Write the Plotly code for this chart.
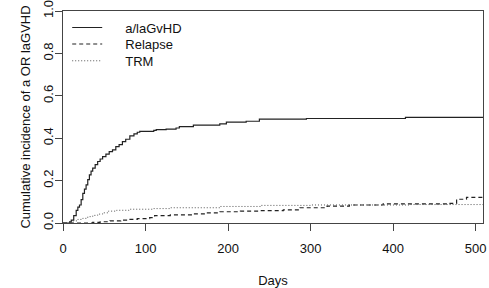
import plotly.graph_objects as go

# ---- data ----
gvhd_days = [0, 8, 10, 13, 16, 18, 20, 22, 24, 26, 28, 30, 32, 34, 36, 39, 42, 45, 48, 52, 56, 60, 64, 68, 72,
             76, 81, 86, 90, 93, 110, 113, 125, 137, 141, 158, 190, 198, 222, 238, 295, 415, 509]
gvhd_vals = [0, 0.005, 0.014, 0.035, 0.06, 0.075, 0.085, 0.11, 0.14, 0.16, 0.18, 0.205, 0.227, 0.245, 0.259,
             0.275, 0.29, 0.302, 0.313, 0.325, 0.337, 0.345, 0.36, 0.37, 0.384, 0.395, 0.411, 0.42, 0.428,
             0.432, 0.437, 0.44, 0.443, 0.448, 0.455, 0.462, 0.468, 0.476, 0.48, 0.49, 0.493, 0.498, 0.498]

relapse_days = [0, 36, 45, 57, 70, 77, 90, 105, 111, 130, 158, 175, 190, 215, 238, 267, 287, 320, 347, 388,
                469, 477, 489, 509]
relapse_vals = [0, 0.003, 0.006, 0.01, 0.014, 0.017, 0.021, 0.025, 0.035, 0.038, 0.043, 0.048, 0.053, 0.056,
                0.058, 0.062, 0.072, 0.08, 0.085, 0.09, 0.093, 0.112, 0.121, 0.121]

trm_days = [0, 8, 12, 18, 24, 30, 36, 42, 48, 55, 65, 80, 110, 130, 190, 240, 300, 420, 509]
trm_vals = [0, 0.003, 0.01, 0.017, 0.022, 0.03, 0.036, 0.042, 0.048, 0.056, 0.06, 0.065, 0.068, 0.072,
            0.078, 0.083, 0.085, 0.087, 0.087]

series_names = ["a/laGvHD", "Relapse", "TRM"]
x_ticks = [0, 100, 200, 300, 400, 500]
y_ticks = [0.0, 0.2, 0.4, 0.6, 0.8, 1.0]

FONT = "Liberation Sans, Arial, sans-serif"
pad = "\u00a0" * 5

fig = go.Figure()
fig.add_trace(go.Scatter(x=gvhd_days, y=gvhd_vals, mode="lines", line_shape="hv", name=pad + series_names[0],
                         line=dict(color="#222222", width=1.2), legend="legend"))
fig.add_trace(go.Scatter(x=relapse_days, y=relapse_vals, mode="lines", line_shape="hv", name=pad + series_names[1],
                         line=dict(color="#222222", width=1.2, dash="4px,3px"), legend="legend2"))
fig.add_trace(go.Scatter(x=trm_days, y=trm_vals, mode="lines", line_shape="hv", name=pad + series_names[2],
                         line=dict(color="#555555", width=1, dash="1px,2px"), legend="legend3"))

axis_common = dict(showline=True, linecolor="#444444", linewidth=1, mirror=True, showgrid=False,
                   zeroline=False, ticks="outside", ticklen=7, tickcolor="#444444", automargin=False,
                   tickfont=dict(family=FONT, size=13, color="#111111"))

legend_common = dict(x=0.01, xanchor="left", yanchor="middle", bgcolor="rgba(0,0,0,0)", borderwidth=0,
                     font=dict(family=FONT, size=13, color="#111111"), itemwidth=30)

fig.update_layout(
    width=489, height=288,
    margin=dict(l=63, r=6, t=11, b=65, autoexpand=False),
    paper_bgcolor="white", plot_bgcolor="white",
    font=dict(family=FONT, size=13, color="#111111"),
    xaxis=dict(range=[0, 509], tickvals=x_ticks, ticklabelstandoff=6,
               title=dict(text="Days", font=dict(family=FONT, size=13), standoff=22),
               **axis_common),
    yaxis=dict(range=[0, 1], tickvals=y_ticks, tickformat=".1f", tickangle=-90, ticklabelstandoff=-3,
               title=dict(text="Cumulative incidence of a OR laGVHD", font=dict(family=FONT, size=13), standoff=7),
               **axis_common),
    legend=dict(y=0.922, **legend_common),
    legend2=dict(y=0.844, **legend_common),
    legend3=dict(y=0.765, **legend_common),
    showlegend=True,
)

fig.write_html("out.html", config={"displayModeBar": False},
               post_script="document.body.style.margin='0px';document.body.style.overflow='hidden';")
